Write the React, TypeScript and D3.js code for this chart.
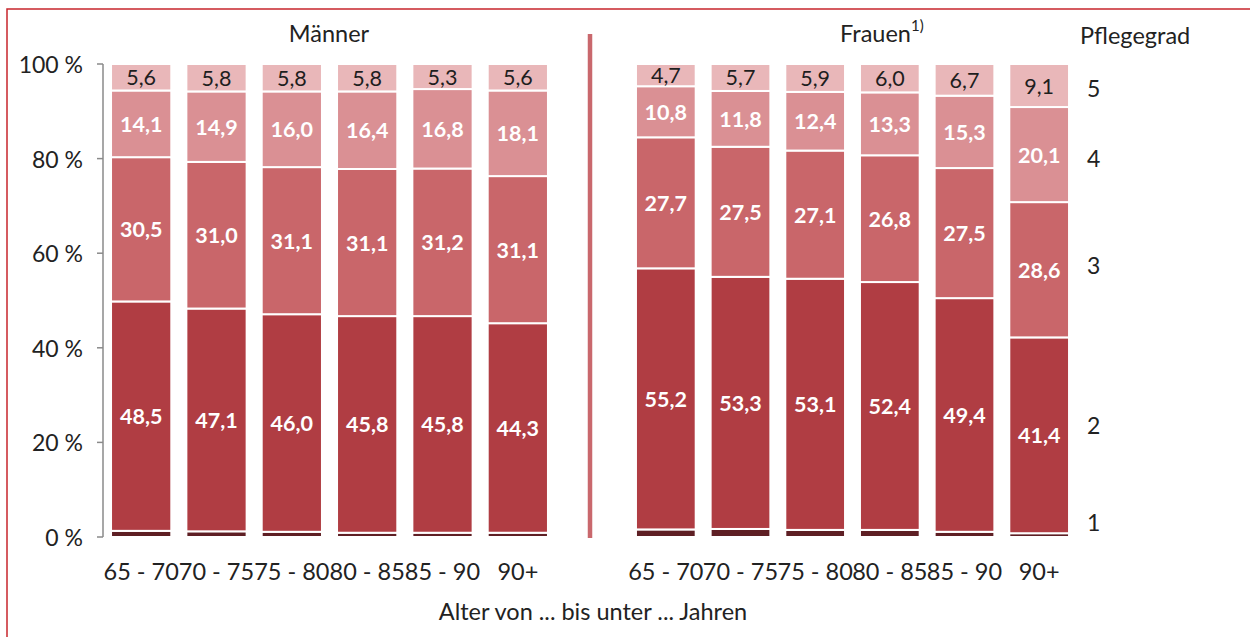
import React from "react";
import * as d3 from "d3";

const ageGroups = ["65 - 70", "70 - 75", "75 - 80", "80 - 85", "85 - 90", "90+"];
const gradeKeys = ["g1", "g2", "g3", "g4", "g5"];
const gradeLabels = ["1", "2", "3", "4", "5"];

// Männer (percent per Pflegegrad)
const menG1 = [1.3, 1.2, 1.1, 0.9, 0.9, 0.9];
const menG2 = [48.5, 47.1, 46.0, 45.8, 45.8, 44.3];
const menG3 = [30.5, 31.0, 31.1, 31.1, 31.2, 31.1];
const menG4 = [14.1, 14.9, 16.0, 16.4, 16.8, 18.1];
const menG5 = [5.6, 5.8, 5.8, 5.8, 5.3, 5.6];

// Frauen
const womenG1 = [1.6, 1.7, 1.5, 1.5, 1.1, 0.8];
const womenG2 = [55.2, 53.3, 53.1, 52.4, 49.4, 41.4];
const womenG3 = [27.7, 27.5, 27.1, 26.8, 27.5, 28.6];
const womenG4 = [10.8, 11.8, 12.4, 13.3, 15.3, 20.1];
const womenG5 = [4.7, 5.7, 5.9, 6.0, 6.7, 9.1];

const yTicks = [0, 20, 40, 60, 80, 100];
const legendLevelPct = [3.2, 23.7, 57.5, 80.1, 94.9];

const colors = ["#5e1f24", "#b03d43", "#c9666a", "#da9094", "#e9b7b9"];
const FONT = "Lato, 'Open Sans', sans-serif";

function buildRows(g1: number[], g2: number[], g3: number[], g4: number[], g5: number[]) {
  return ageGroups.map((age, i) => ({ age, g1: g1[i], g2: g2[i], g3: g3[i], g4: g4[i], g5: g5[i] }));
}

const fmt = (v: number) => v.toFixed(1).replace(".", ",");

export default function App() {
  const W = 1250, H = 637;
  const y = d3.scaleLinear().domain([0, 100]).range([537, 64]);
  const stack = d3.stack<any>().keys(gradeKeys);

  const panels = [
    { name: "men", rows: buildRows(menG1, menG2, menG3, menG4, menG5), range: [103.5, 555.5] },
    { name: "women", rows: buildRows(womenG1, womenG2, womenG3, womenG4, womenG5), range: [628.5, 1076.5] },
  ].map((p) => ({
    ...p,
    x: d3.scaleBand().domain(ageGroups).range(p.range as [number, number]).paddingInner(0.2).paddingOuter(0.1),
    series: stack(p.rows),
  }));

  return (
    <svg width={W} height={H} style={{ position: "absolute", left: 0, top: 0, background: "#fff" }} fontFamily={FONT}>
      <rect x={7} y={9} width={1300} height={700} fill="#fff" stroke="#c8262d" strokeWidth={1.5} />

      {/* y axis */}
      <line x1={103} x2={103} y1={y(100)} y2={y(0)} stroke="#8a8a8a" strokeWidth={1.5} />
      {yTicks.map((t) => (
        <g key={t}>
          <line x1={97} x2={103} y1={y(t)} y2={y(t)} stroke="#8a8a8a" strokeWidth={1.5} />
          <text x={83} y={y(t)} textAnchor="end" dominantBaseline="central" fontSize={23} fill="#222">
            {t} %
          </text>
        </g>
      ))}

      {panels.map((p) => (
        <g key={p.name}>
          {p.series.map((s, si) =>
            s.map((d, i) => {
              const x0 = p.x(ageGroups[i]) as number;
              const bw = p.x.bandwidth();
              const yTop = y(d[1]);
              const yBot = y(d[0]);
              const v = d[1] - d[0];
              return (
                <g key={`${si}-${i}`}>
                  <rect x={x0} y={yTop} width={bw} height={Math.max(0, yBot - yTop)} fill={colors[si]} stroke="#fff" strokeWidth={2} />
                  {si > 0 && (
                    <text
                      x={x0 + bw / 2}
                      y={(yTop + yBot) / 2}
                      textAnchor="middle"
                      dominantBaseline="central"
                      fontSize={21.5}
                      fontWeight={si === 4 ? 400 : 700}
                      fill={si === 4 ? "#1e1e1e" : "#fff"}
                    >
                      {fmt(v)}
                    </text>
                  )}
                </g>
              );
            })
          )}
          {ageGroups.map((a) => (
            <text key={a} x={(p.x(a) as number) + p.x.bandwidth() / 2} y={571} textAnchor="middle" dominantBaseline="central" fontSize={23.5} fill="#222">
              {a}
            </text>
          ))}
        </g>
      ))}

      {/* divider */}
      <line x1={590} x2={590} y1={34} y2={538} stroke="#c9686d" strokeWidth={4.5} />

      {/* titles */}
      <text x={329} y={33} textAnchor="middle" dominantBaseline="central" fontSize={23.5} fill="#222">Männer</text>
      <text x={840} y={33} dominantBaseline="central" fontSize={23.5} fill="#222">
        Frauen<tspan fontSize={15} dy={-8}>1)</tspan>
      </text>
      <text x={1080} y={35} dominantBaseline="central" fontSize={23.5} fill="#222">Pflegegrad</text>

      {gradeLabels.map((g, i) => (
        <text key={g} x={1087} y={y(legendLevelPct[i])} dominantBaseline="central" fontSize={23} fill="#222">{g}</text>
      ))}

      <text x={593} y={611} textAnchor="middle" dominantBaseline="central" fontSize={23.5} fill="#222">
        Alter von ... bis unter ... Jahren
      </text>
    </svg>
  );
}
